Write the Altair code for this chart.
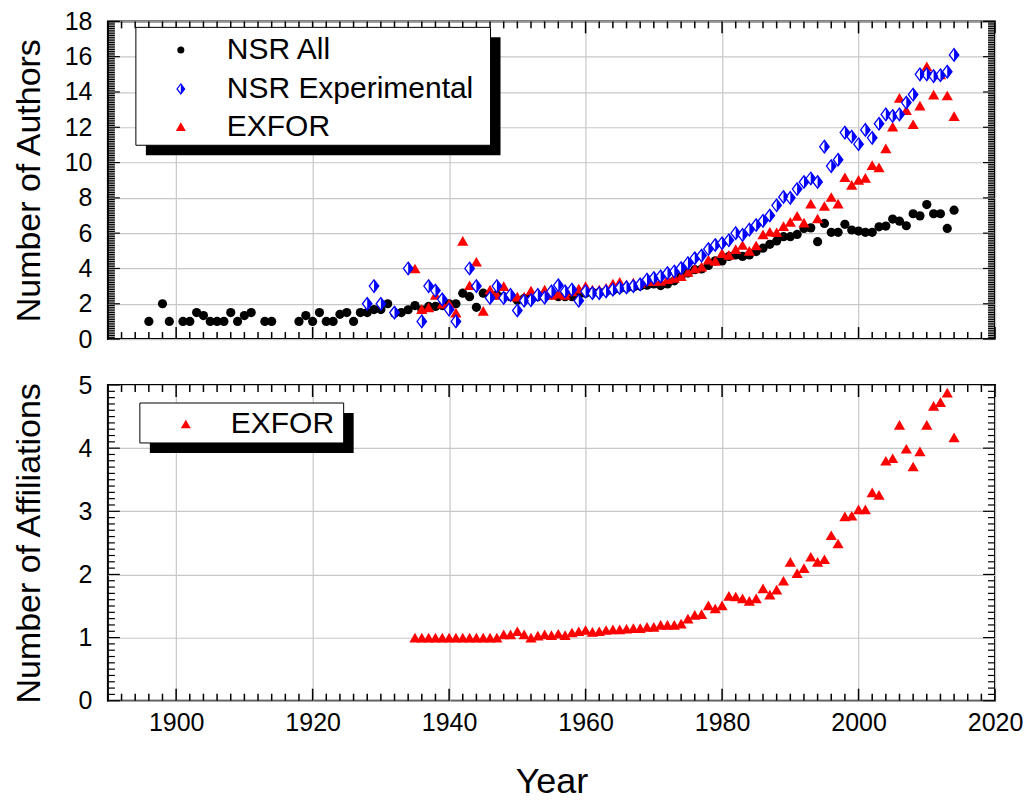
import altair as alt
import pandas as pd
import numpy as np

# ------------------------------------------------------------------ data
nsr_all_years = ([1896, 1898, 1899] + list(range(1901, 1912)) + [1913, 1914]
                 + list(range(1918, 2015)))
nsr_all_vals = ([1.0, 2.0, 1.0]
                + [1.0, 1.0, 1.5, 1.33, 1.0, 1.0, 1.0, 1.5, 1.0, 1.33, 1.5]
                + [1.0, 1.0]
                + [1.0, 1.33, 1.0, 1.5, 1.0, 1.0, 1.4, 1.5, 1.0, 1.5, 1.5, 1.67, 1.67, 2.0, 1.47]
                + [1.5, 1.66, 1.9, 1.66, 1.85, 1.85, 1.9, 2.0, 2.0, 2.6, 2.4, 1.8, 2.6, 2.5, 2.5, 2.4, 2.4]
                + [2.2, 2.3, 2.4, 2.4, 2.4, 2.5, 2.4, 2.4, 2.4, 2.5, 2.6, 2.65, 2.65, 2.7, 2.75, 2.85,
                   2.9, 2.95, 3.0, 3.05]
                + [3.12, 3.03, 3.12, 3.3, 3.55, 3.74, 3.93, 3.97, 4.17, 4.43, 4.43, 4.68, 4.77, 4.68,
                   4.77, 4.96, 5.15, 5.37, 5.56, 5.8]
                + [5.8, 5.93, 6.27, 6.3, 5.52, 6.55, 6.05, 6.05, 6.5, 6.18, 6.12, 6.05, 6.05, 6.36,
                   6.4, 6.8, 6.68, 6.42, 7.1, 6.98, 7.62, 7.1, 7.1, 6.27, 7.3])

nsr_exp_years = ([1928, 1929, 1930, 1932, 1934, 1936, 1937, 1938, 1939, 1940, 1941, 1943, 1944]
                 + list(range(1946, 2015)))
nsr_exp_vals = ([2.0, 3.0, 2.0, 1.5, 4.0, 1.0, 3.0, 2.75, 2.25, 1.67, 1.0, 4.0, 3.0]
                + [2.33, 3.0, 2.33, 2.5, 1.62, 2.17, 2.2, 2.5, 2.35, 2.7,
                   3.05, 2.7, 2.8, 2.17, 2.7, 2.6, 2.6, 2.7, 2.8, 2.9,
                   2.93, 3.0, 3.1, 3.37, 3.46, 3.55, 3.74, 3.83, 4.02, 4.3,
                   4.58, 4.73, 5.1, 5.33, 5.43, 5.6, 6.0, 5.9, 6.2, 6.46,
                   6.7, 7.0, 7.58, 8.05, 8.0, 8.5, 8.9, 9.1, 8.9, 10.9,
                   9.8, 10.16, 11.7, 11.47, 11.04, 11.85, 11.4, 12.2, 12.73, 12.64,
                   12.73, 13.4, 13.85, 15.0, 15.0, 14.9, 14.95, 15.15, 16.1])

exfor_years = list(range(1935, 2015))
exfor_authors = [4.0, 1.7, 1.8, 2.5, 2.0, 2.0, 1.5, 5.56, 3.05, 4.38,
                 1.6, 2.8, 2.5, 3.0, 2.5, 2.4, 2.4, 2.75, 2.5, 2.8,
                 2.5, 2.57, 2.5, 2.7, 2.86, 3.0, 2.8, 2.8, 2.9, 3.14,
                 3.24, 3.1, 3.2, 3.18, 3.28, 3.28, 3.3, 3.4, 3.47, 3.56,
                 3.8, 4.0, 4.1, 4.5, 4.43, 4.87, 4.77, 5.1, 5.33, 5.0,
                 5.3, 5.93, 6.08, 6.05, 6.4, 6.64, 6.98, 6.6, 7.67, 6.83,
                 7.54, 8.05, 7.67, 9.17, 8.74, 9.02, 9.13, 9.86, 9.73, 10.8,
                 12.04, 13.67, 12.97, 12.17, 13.23, 15.45, 13.85, 15.0, 13.8, 12.63]
exfor_affil = [1.0, 1.0, 1.0, 1.0, 1.0, 1.0, 1.0, 1.0, 1.0, 1.0,
               1.0, 1.0, 1.0, 1.05, 1.05, 1.1, 1.05, 1.0, 1.03, 1.05,
               1.04, 1.06, 1.04, 1.08, 1.1, 1.12, 1.09, 1.1, 1.12, 1.13,
               1.13, 1.14, 1.15, 1.15, 1.17, 1.17, 1.2, 1.2, 1.2, 1.22,
               1.3, 1.36, 1.37, 1.51, 1.46, 1.51, 1.66, 1.65, 1.62, 1.58,
               1.62, 1.78, 1.68, 1.76, 1.9, 2.2, 2.02, 2.1, 2.28, 2.2,
               2.24, 2.62, 2.49, 2.92, 2.93, 3.03, 3.03, 3.3, 3.26, 3.8,
               3.84, 4.37, 3.99, 3.71, 3.95, 4.37, 4.67, 4.73, 4.88, 4.17]

x_tick_labels = [1900, 1920, 1940, 1960, 1980, 2000, 2020]
top_y_labels = [0, 2, 4, 6, 8, 10, 12, 14, 16, 18]
bottom_y_labels = [0, 1, 2, 3, 4, 5]

# ------------------------------------------------------------------ styling
FONT = "Liberation Sans"
W = 888
H1 = 318
H2 = 316
GRID = "#c8c8c8"
BLUE = "#0000ff"
RED = "#ff0000"
DIAMOND = "M0,-1.25L0.95,0L0,1.25L-0.95,0Z"
HALF = "M0,-1.25L0.95,0L0,1.25Z"
MAJ, MIN = 12, 7
LABEL_FS = 25


def minor_vals(lo, hi, step, majors):
    vals = np.round(np.arange(lo, hi + step / 2, step), 3)
    return [float(v) for v in vals if not any(abs(v - m) < 1e-6 for m in majors)]


x_major_ticks = x_tick_labels
x_minor_ticks = minor_vals(1890, 2020, 2, x_major_ticks)


def panel(H, ymax, ylabels, ytitle, show_x, series, legend):
    xs = alt.Scale(domain=[1890, 2020], nice=False, zero=False)
    ys = alt.Scale(domain=[0, ymax], nice=False, zero=False)
    xkw = dict(values=x_tick_labels, grid=True, gridColor=GRID, gridWidth=1.2,
               ticks=False, tickSize=0, domain=False, labelFlush=False,
               labelOverlap=False, format="d")
    if show_x:
        xkw.update(labels=True, labelFontSize=LABEL_FS, labelPadding=10, labelColor="black",
                   title="Year", titleFontSize=36, titleFontWeight="normal",
                   titlePadding=29, titleColor="black")
    else:
        xkw.update(labels=False, title=None)
    ykw = dict(values=ylabels, grid=True, gridColor=GRID, gridWidth=1.2,
               ticks=False, tickSize=0, domain=False, labelFlush=False,
               labelOverlap=False, labelFontSize=LABEL_FS, labelPadding=16, labelColor="black",
               title=ytitle, titleFontSize=34, titleFontWeight="normal",
               titleColor="black", titleX=-68, titleBaseline="alphabetic")
    xax = alt.Axis(**xkw)
    yax = alt.Axis(**ykw)

    def X(f):
        return alt.X(f, type="quantitative", scale=xs, axis=xax)

    def Y(f):
        return alt.Y(f, type="quantitative", scale=ys, axis=yax)

    layers = []
    # tick marks (inward, all four sides)
    y_minor = minor_vals(0, ymax, 0.1, ylabels)
    for vals, L in ((x_major_ticks, MAJ), (x_minor_ticks, MIN)):
        base = alt.Chart(pd.DataFrame({"t": vals})).mark_rule(color="black", strokeWidth=1.5)
        layers.append(base.encode(x=X("t"), y=alt.value(H), y2=alt.value(H - L)))
        layers.append(base.encode(x=X("t"), y=alt.value(0), y2=alt.value(L)))
    for vals, L in ((ylabels, MAJ), (y_minor, MIN)):
        base = alt.Chart(pd.DataFrame({"t": vals})).mark_rule(color="black", strokeWidth=1.2)
        layers.append(base.encode(y=Y("t"), x=alt.value(0), x2=alt.value(L)))
        layers.append(base.encode(y=Y("t"), x=alt.value(W), x2=alt.value(W - L)))

    layers += series(X, Y)
    layers += legend
    return alt.layer(*layers).properties(width=W, height=H)


one = pd.DataFrame({"k": [0]})


def legend_box(x0, y0, x1, y1):
    shadow = alt.Chart(one).mark_rect(color="black", opacity=1).encode(
        x=alt.value(x0 + 10), x2=alt.value(x1 + 10), y=alt.value(y0 + 10), y2=alt.value(y1 + 10))
    box = alt.Chart(one).mark_rect(fill="white", stroke="black", strokeWidth=1, opacity=1).encode(
        x=alt.value(x0), x2=alt.value(x1), y=alt.value(y0), y2=alt.value(y1))
    return [shadow, box]


def legend_text(label, x, y):
    return alt.Chart(one).mark_text(text=label, align="left", baseline="middle", fontSize=30,
                                    font=FONT, color="black").encode(x=alt.value(x), y=alt.value(y))


def top_series(X, Y):
    df_all = pd.DataFrame({"year": nsr_all_years, "val": nsr_all_vals})
    df_exp = pd.DataFrame({"year": nsr_exp_years, "val": nsr_exp_vals})
    df_ex = pd.DataFrame({"year": exfor_years, "val": exfor_authors})
    return [
        alt.Chart(df_all).mark_point(shape="circle", filled=True, size=85, color="black",
                                     opacity=1).encode(x=X("year"), y=Y("val")),
        alt.Chart(df_ex).mark_point(shape="triangle-up", filled=True, size=125, color=RED,
                                    opacity=1).encode(x=X("year"), y=Y("val")),
        alt.Chart(df_exp).mark_point(shape=DIAMOND, size=100, fill="white", stroke=BLUE,
                                     strokeWidth=1.3, opacity=1, fillOpacity=1).encode(
            x=X("year"), y=Y("val")),
        alt.Chart(df_exp).mark_point(shape=HALF, size=100, filled=True, color=BLUE,
                                     opacity=1).encode(x=X("year"), y=Y("val")),
    ]


def bottom_series(X, Y):
    df_af = pd.DataFrame({"year": exfor_years, "val": exfor_affil})
    return [
        alt.Chart(df_af).mark_point(shape="triangle-up", filled=True, size=125, color=RED,
                                    opacity=1).encode(x=X("year"), y=Y("val")),
    ]


top_legend = legend_box(28, 6, 383, 124) + [
    alt.Chart(one).mark_point(shape="circle", filled=True, size=50, color="black", opacity=1)
    .encode(x=alt.value(73), y=alt.value(28.6)),
    alt.Chart(one).mark_point(shape=DIAMOND, size=64, fill="white", stroke=BLUE, strokeWidth=1.2,
                              opacity=1, fillOpacity=1).encode(x=alt.value(73), y=alt.value(67.6)),
    alt.Chart(one).mark_point(shape=HALF, size=64, filled=True, color=BLUE, opacity=1)
    .encode(x=alt.value(73), y=alt.value(67.6)),
    alt.Chart(one).mark_point(shape="triangle-up", filled=True, size=100, color=RED, opacity=1)
    .encode(x=alt.value(73), y=alt.value(105.3)),
    legend_text("NSR All", 119, 28.6),
    legend_text("NSR Experimental", 119, 67.6),
    legend_text("EXFOR", 119, 105.3),
]

bottom_legend = legend_box(32, 18, 236, 58) + [
    alt.Chart(one).mark_point(shape="triangle-up", filled=True, size=100, color=RED, opacity=1)
    .encode(x=alt.value(78), y=alt.value(39)),
    legend_text("EXFOR", 123, 39),
]

top = panel(H1, 18, top_y_labels, "Number of Authors", False, top_series, top_legend)
bottom = panel(H2, 5, bottom_y_labels, "Number of Affiliations", True, bottom_series, bottom_legend)

chart = (alt.vconcat(top, bottom, spacing=19)
         .properties(padding={"left": 4, "top": 0, "right": 0, "bottom": 0})
         .configure(font=FONT)
         .configure_view(stroke="black", strokeWidth=2))

chart.save("out.html", embed_options={"renderer": "svg", "actions": False})
